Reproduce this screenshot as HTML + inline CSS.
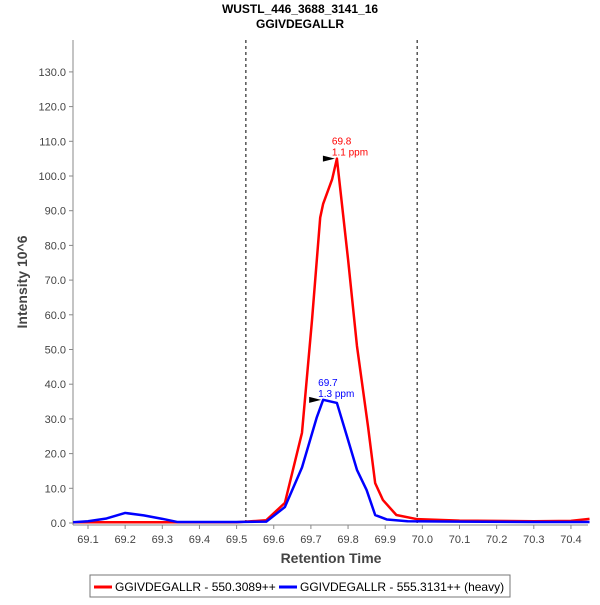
<!DOCTYPE html>
<html><head><meta charset="utf-8"><style>
body{margin:0;background:#fff;font-family:"Liberation Sans",sans-serif}
</style></head><body>
<svg width="600" height="600" xmlns="http://www.w3.org/2000/svg" font-family="Liberation Sans, sans-serif">
<rect width="600" height="600" fill="#fff"/>
<text x="300" y="13" text-anchor="middle" font-weight="bold" font-size="12">WUSTL_446_3688_3141_16</text>
<text x="300" y="28" text-anchor="middle" font-weight="bold" font-size="12">GGIVDEGALLR</text>
<g id="axes"></g>
<g id="marks"></g>
<text transform="translate(27,282) rotate(-90)" text-anchor="middle" font-weight="bold" font-size="14" fill="#444">Intensity 10^6</text>
<text x="331" y="563" text-anchor="middle" font-weight="bold" font-size="14" fill="#444">Retention Time</text>
<g>
<rect x="90" y="575" width="420" height="22" fill="#fff" stroke="#777"/>
<line x1="94" y1="587" x2="112" y2="587" stroke="#f00" stroke-width="3"/>
<text x="115" y="591" font-size="12">GGIVDEGALLR - 550.3089++</text>
<line x1="279" y1="587" x2="297" y2="587" stroke="#00f" stroke-width="3"/>
<text x="300" y="591" font-size="12">GGIVDEGALLR - 555.3131++ (heavy)</text>
</g>
</svg>
<script>
const xTicks=[69.1,69.2,69.3,69.4,69.5,69.6,69.7,69.8,69.9,70.0,70.1,70.2,70.3,70.4];
const yTicks=[0,10,20,30,40,50,60,70,80,90,100,110,120,130];
const lightRT=[69.06,69.3,69.5,69.58,69.63,69.676,69.703,69.725,69.733,69.757,69.77,69.80,69.824,69.854,69.873,69.894,69.93,69.986,70.1,70.3,70.4,70.45];
const lightI=[0.2,0.2,0.2,0.8,5.8,26,58.5,88,92,99,105,76,51,27.6,11.5,6.6,2.3,1.1,0.7,0.5,0.6,1.2];
const heavyRT=[69.06,69.1,69.15,69.2,69.25,69.3,69.34,69.5,69.58,69.63,69.676,69.716,69.733,69.77,69.797,69.824,69.85,69.873,69.905,69.96,70.1,70.3,70.45];
const heavyI=[0.2,0.5,1.3,2.9,2.2,1.2,0.3,0.3,0.4,4.6,16,30.5,35.5,34.6,25,15.3,9.5,2.3,1.0,0.5,0.4,0.3,0.3];
const markers=[{rt:69.77,v:105,label:"69.8",ppm:"1.1 ppm",color:"#f00"},{rt:69.733,v:35.5,label:"69.7",ppm:"1.3 ppm",color:"#00f"}];
const boundaries=[69.525,69.986];
const NS="http://www.w3.org/2000/svg";
const X=v=>88+(v-69.1)*371.5;
const Y=v=>523-v*3.47;
function mk(tag,attrs,parent,text){const e=document.createElementNS(NS,tag);for(const k in attrs)e.setAttribute(k,attrs[k]);if(text!==undefined)e.textContent=text;parent.appendChild(e);return e;}
const ax=document.getElementById('axes'),mg=document.getElementById('marks');
let e=mk('line',{x1:73,y1:40,x2:73,y2:525,stroke:'#888'},ax);


e=mk('line',{x1:73,y1:525,x2:588,y2:525,stroke:'#888'},ax);


yTicks.forEach(t=>{
  mk('line',{x1:69,y1:Y(t),x2:73,y2:Y(t),stroke:'#888'},ax);
  const l=mk('text',{x:66,y:Y(t)+4,'text-anchor':'end','font-size':11,fill:'#444'},ax,t.toFixed(1));
  
  
});
xTicks.forEach(t=>{
  mk('line',{x1:X(t),y1:525,x2:X(t),y2:529,stroke:'#888'},ax);
  const l=mk('text',{x:X(t),y:543,'text-anchor':'middle','font-size':11,fill:'#444'},ax,t.toFixed(1));
  
  
});
boundaries.forEach(b=>{
  const l=mk('line',{x1:X(b),y1:40,x2:X(b),y2:523,stroke:'#000','stroke-dasharray':'3,3'},mg);
  
  
});
function series(rt,iv,color,name){
  const p=mk('polyline',{points:rt.map((r,i)=>X(r)+','+Y(iv[i])).join(' '),fill:'none',stroke:color,'stroke-width':2.5,'stroke-linejoin':'round'},mg);
  
  
}
series(lightRT,lightI,'#f00','light-series-line');
series(heavyRT,heavyI,'#00f','heavy-series-line');
markers.forEach(m=>{
  const x=X(m.rt),y=Y(m.v);
  const t=mk('polygon',{points:`${x-14},${y-3} ${x-2},${y} ${x-14},${y+3}`,fill:'#000'},mg);
  
  
  const a=mk('text',{x:x-5,y:y-14,'font-size':10,fill:m.color},mg,m.label);
  
  
  const b=mk('text',{x:x-5,y:y-3,'font-size':10,fill:m.color},mg,m.ppm);
  
  
});
</script>
</body></html>
